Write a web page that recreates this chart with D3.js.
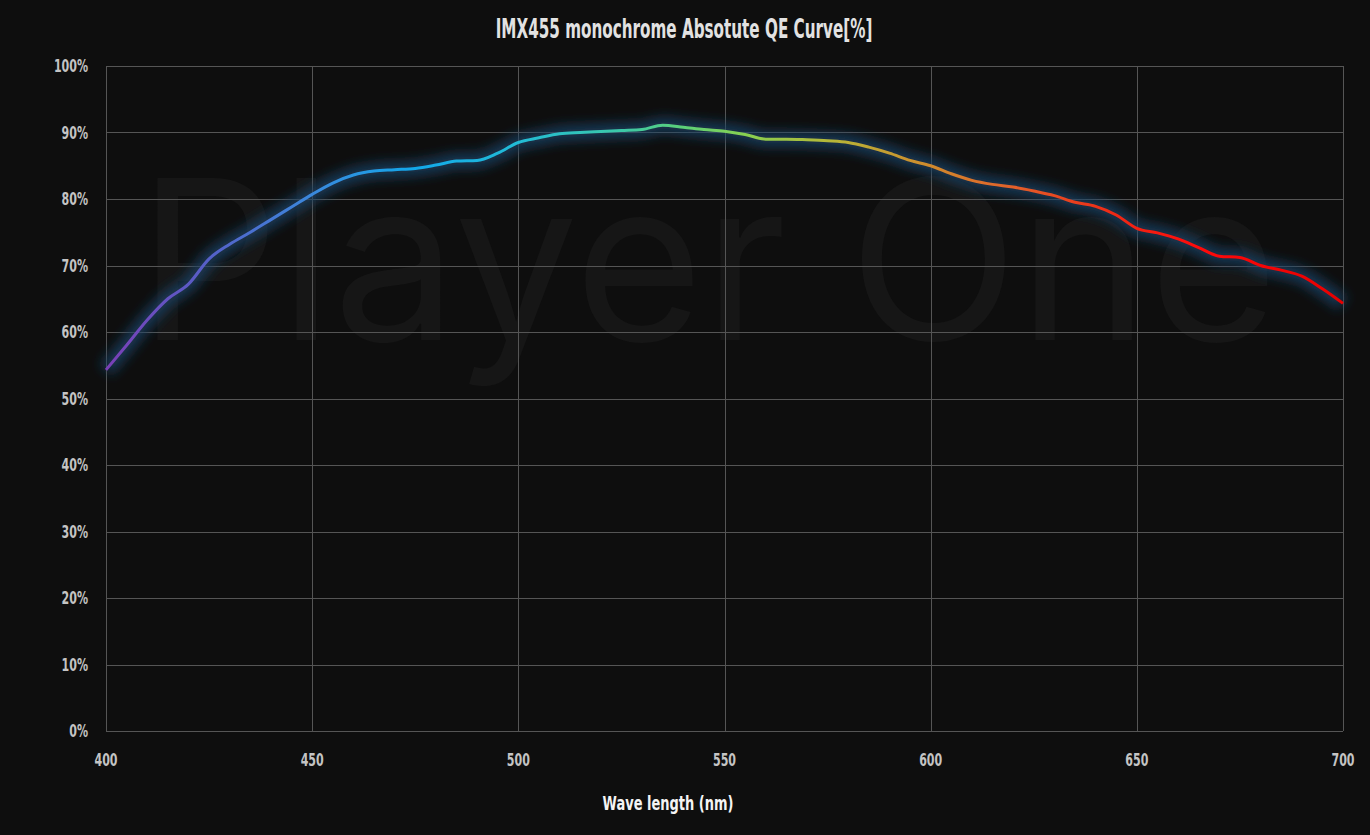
<!DOCTYPE html>
<html><head><meta charset="utf-8">
<script src="https://cdn.jsdelivr.net/npm/d3@7"></script>
<style>
html,body{margin:0;padding:0;background:#0e0e0e;}
svg{display:block;}
</style></head>
<body>
<script>
const wavelengths = [400,405,410,415,420,425,430,435,440,445,450,455,460,465,470,475,480,485,490,495,500,505,510,515,520,525,530,535,540,545,550,555,560,565,570,575,580,585,590,595,600,605,610,615,620,625,630,635,640,645,650,655,660,665,670,675,680,685,690,695,700];
const qe = [54.3,58.0,61.8,65.0,67.2,71.0,73.2,75.0,76.9,78.8,80.7,82.4,83.6,84.2,84.4,84.6,85.1,85.7,85.8,86.9,88.5,89.2,89.8,90.0,90.15,90.3,90.45,91.1,90.8,90.45,90.2,89.7,89.0,89.0,88.9,88.75,88.5,87.8,86.9,85.8,85.0,83.8,82.8,82.2,81.8,81.2,80.5,79.5,78.9,77.6,75.6,74.9,74.0,72.7,71.4,71.2,70.0,69.3,68.4,66.5,64.3];
const xTicks = [400,450,500,550,600,650,700];
const yTicks = [0,10,20,30,40,50,60,70,80,90,100];
const colorStops = [[400,"#7a3fb6"],[425,"#5560c8"],[450,"#3a88dc"],[475,"#12a8ea"],[500,"#22bcd6"],[525,"#3cc8a8"],[540,"#5cd078"],[555,"#88d050"],[575,"#b4b838"],[600,"#d08a2c"],[620,"#e2602a"],[645,"#f02814"],[665,"#ff0a0a"],[700,"#e80000"]];
const title = "IMX455 monochrome Absotute QE Curve[%]";
const xLabel = "Wave length (nm)";
const watermark = "Player One";

const W = 1370, H = 835;
const m = {l:106, r:27, t:66, b:104};
const svg = d3.select("body").append("svg").attr("width",W).attr("height",H);
svg.append("rect").attr("width",W).attr("height",H).attr("fill","#0e0e0e");

const x = d3.scaleLinear().domain([400,700]).range([m.l, W-m.r]);
const y = d3.scaleLinear().domain([0,100]).range([H-m.b, m.t]);

const defs = svg.append("defs");
const grad = defs.append("linearGradient").attr("id","spec")
  .attr("gradientUnits","userSpaceOnUse")
  .attr("x1",x(400)).attr("x2",x(700)).attr("y1",0).attr("y2",0);
grad.selectAll("stop").data(colorStops).join("stop")
  .attr("offset",d=>(d[0]-400)/300).attr("stop-color",d=>d[1]);
const blur = defs.append("filter").attr("id","glow").attr("x","-10%").attr("y","-50%").attr("width","120%").attr("height","200%");
blur.append("feGaussianBlur").attr("stdDeviation",6);

// watermark
svg.append("text").attr("x",138).attr("y",340)
  .attr("textLength",1140).attr("lengthAdjust","spacingAndGlyphs")
  .attr("font-family","Inter, 'Open Sans', sans-serif").attr("font-weight",400)
  .attr("font-size",222).attr("fill","#161616").text(watermark);

// grid
const g = svg.append("g");
g.selectAll(".hg").data(yTicks).join("line")
  .attr("x1",x(400)).attr("x2",x(700)).attr("y1",d=>Math.round(y(d))+0.5).attr("y2",d=>Math.round(y(d))+0.5)
  .attr("stroke","#555").attr("stroke-width",1);
g.selectAll(".vg").data(xTicks).join("line")
  .attr("y1",y(0)).attr("y2",y(100)).attr("x1",d=>Math.round(x(d))+0.5).attr("x2",d=>Math.round(x(d))+0.5)
  .attr("stroke","#555").attr("stroke-width",1);

const font = "'DejaVu Sans',sans-serif";
function ctext(sel, px, py, c){ c = c||0.65; return sel.attr("transform",(d,i)=>`translate(${px(d,i)},${py(d,i)}) scale(${c},1)`); }
// y labels
ctext(svg.selectAll(".yl").data(yTicks).join("text"), ()=>88, d=>y(d)+6)
  .attr("text-anchor","end")
  .attr("font-family",font).attr("font-weight","bold").attr("font-size",17)
  .attr("fill","#c4c4c4").text(d=>d+"%");
// x labels
ctext(svg.selectAll(".xl").data(xTicks).join("text"), d=>x(d), ()=>766)
  .attr("text-anchor","middle")
  .attr("font-family",font).attr("font-weight","bold").attr("font-size",17)
  .attr("fill","#c4c4c4").text(d=>d);

// line
const data = wavelengths.map((w,i)=>[w,qe[i]]);
const line = d3.line().x(d=>x(d[0])).y(d=>y(d[1])).curve(d3.curveMonotoneX);
svg.append("path").datum(data).attr("d",line).attr("fill","none")
  .attr("stroke","#1b4468").attr("stroke-width",16).attr("stroke-opacity",0.75).attr("filter","url(#glow)");
svg.append("path").datum(data).attr("d",line).attr("fill","none")
  .attr("stroke","url(#spec)").attr("stroke-width",3).attr("stroke-linejoin","round");

// title
ctext(svg.append("text"), ()=>684, ()=>38, 0.585).attr("text-anchor","middle")
  .attr("font-family",font).attr("font-weight","bold").attr("font-size",26)
  .attr("fill","#e2e2e2").text(title);
ctext(svg.append("text"), ()=>668, ()=>810).attr("text-anchor","middle")
  .attr("font-family",font).attr("font-weight","bold").attr("font-size",20)
  .attr("fill","#f4f4f4").text(xLabel);
</script>
</body></html>
